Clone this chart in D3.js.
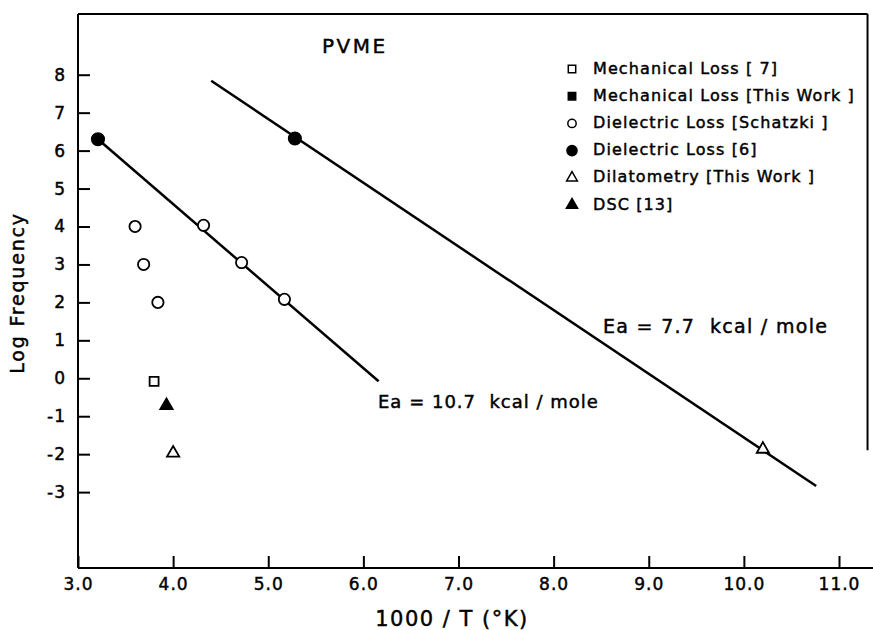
<!DOCTYPE html>
<html>
<head>
<meta charset="utf-8">
<script src="https://cdn.jsdelivr.net/npm/d3@7"></script>
<style>
  html, body { margin: 0; padding: 0; background: #fff; }
  svg { display: block; font-family: "DejaVu Sans", sans-serif; }
  text { fill: #000; stroke: #000; stroke-width: 0.45px; }
</style>
</head>
<body>
<svg id="chart" width="873" height="630"></svg>
<script>
// Legend entries, in drawing order
const seriesNames = [
  "Mechanical Loss [ 7]",
  "Mechanical Loss [This Work ]",
  "Dielectric Loss [Schatzki ]",
  "Dielectric Loss [6]",
  "Dilatometry [This Work ]",
  "DSC [13]"
];

// Observations: [1000/T, log frequency]
const mechLoss7 = [[3.80, -0.08]];
const mechLossThisWork = [];
const dielLossSchatzki = [[3.60, 4.0], [3.69, 3.0], [3.84, 2.0], [4.32, 4.03], [4.72, 3.05], [5.17, 2.08]];
const dielLoss6 = [[3.21, 6.3], [5.28, 6.32]];
const dilatometryThisWork = [[4.00, -1.97], [10.20, -1.87]];
const dsc13 = [[3.93, -0.72]];

// Arrhenius fit lines (end points)
const fit107 = [[3.21, 6.3], [6.16, -0.08]];
const fit77 = [[4.40, 7.84], [10.76, -2.84]];

const fitLabels = ["Ea = 10.7  kcal / mole", "Ea = 7.7  kcal / mole"];

// Axis ticks
const xTicks = [3, 4, 5, 6, 7, 8, 9, 10, 11];
const yTicks = [-3, -2, -1, 0, 1, 2, 3, 4, 5, 6, 7, 8];

const svg = d3.select("#chart");

const x = d3.scaleLinear().domain([3, 11]).range([78, 839]);
const y = d3.scaleLinear().domain([-5, 9.6]).range([568, 14]);

const ink = "#000";

// Frame: left axis, top border, partial right border, bottom axis
const frame = svg.append("g").attr("stroke", ink).attr("stroke-width", 2).attr("fill", "none");
frame.append("line").attr("x1", x(3)).attr("x2", x(3)).attr("y1", y(9.6)).attr("y2", y(-5));
frame.append("line").attr("x1", x(3)).attr("x2", x(11.3)).attr("y1", y(9.6)).attr("y2", y(9.6));
frame.append("line").attr("x1", x(11.3)).attr("x2", x(11.3)).attr("y1", y(9.6)).attr("y2", y(-1.9));
frame.append("line").attr("x1", x(3)).attr("x2", x(11.37)).attr("y1", y(-5)).attr("y2", y(-5));

// Bottom axis with inward ticks
const xAxis = d3.axisBottom(x)
  .tickValues(xTicks)
  .tickSize(-12)
  .tickPadding(10)
  .tickFormat(d3.format(".1f"));
const gx = svg.append("g").attr("transform", `translate(0,${y(-5)})`).call(xAxis);
gx.select(".domain").remove();
gx.selectAll(".tick line").attr("stroke", ink).attr("stroke-width", 2);
gx.selectAll(".tick text")
  .attr("font-size", 17)
  .attr("letter-spacing", 1)
  .attr("font-family", "DejaVu Sans, sans-serif");

// Left axis with inward ticks
const yAxis = d3.axisLeft(y)
  .tickValues(yTicks)
  .tickSize(-12)
  .tickPadding(12)
  .tickFormat(d => String(d));
const gy = svg.append("g").attr("transform", `translate(${x(3)},0)`).call(yAxis);
gy.select(".domain").remove();
gy.selectAll(".tick line").attr("stroke", ink).attr("stroke-width", 2);
gy.selectAll(".tick text")
  .attr("font-size", 17)
  .attr("letter-spacing", 1)
  .attr("font-family", "DejaVu Sans, sans-serif");

// Axis titles
svg.append("text")
  .attr("x", 452).attr("y", 620)
  .attr("text-anchor", "middle").attr("dominant-baseline", "middle")
  .attr("font-size", 21).attr("letter-spacing", 1.5)
  .text("1000 / T (°K)");

svg.append("text")
  .attr("transform", "translate(18,293) rotate(-90)")
  .attr("text-anchor", "middle").attr("dominant-baseline", "middle")
  .attr("font-size", 19).attr("letter-spacing", 1.8)
  .text("Log Frequency");

// Panel title
svg.append("text")
  .attr("x", 322).attr("y", 47)
  .attr("dominant-baseline", "middle")
  .attr("font-size", 20).attr("letter-spacing", 2.5)
  .text("PVME");

// Fit lines
const line = d3.line().x(d => x(d[0])).y(d => y(d[1]));
svg.append("g").attr("fill", "none").attr("stroke", ink).attr("stroke-width", 2.5)
  .selectAll("path").data([fit107, fit77]).join("path").attr("d", line);

// Fit labels
svg.append("text")
  .attr("x", 378).attr("y", 403)
  .attr("dominant-baseline", "middle")
  .attr("font-size", 18).attr("letter-spacing", 1)
  .attr("xml:space", "preserve")
  .text(fitLabels[0]);
svg.append("text")
  .attr("x", 603).attr("y", 327)
  .attr("dominant-baseline", "middle")
  .attr("font-size", 19).attr("letter-spacing", 1.3)
  .attr("xml:space", "preserve")
  .text(fitLabels[1]);

// Marker styles per series
const markerStyles = [
  { type: d3.symbolSquare,   size: 80,  fill: "#fff" },
  { type: d3.symbolSquare,   size: 70,  fill: ink },
  { type: d3.symbolCircle,   size: 100, fill: "#fff" },
  { type: d3.symbolCircle,   size: 120, fill: ink },
  { type: d3.symbolTriangle, size: 65,  fill: "#fff" },
  { type: d3.symbolTriangle, size: 65,  fill: ink }
];
const seriesData = [mechLoss7, mechLossThisWork, dielLossSchatzki, dielLoss6, dilatometryThisWork, dsc13];

seriesData.forEach((pts, i) => {
  const st = markerStyles[i];
  svg.append("g")
    .selectAll("path").data(pts).join("path")
    .attr("transform", d => `translate(${x(d[0])},${y(d[1])})`)
    .attr("d", d3.symbol().type(st.type).size(st.size))
    .attr("fill", st.fill)
    .attr("stroke", ink)
    .attr("stroke-width", 1.8);
});

// Legend
const legendSizes = [55, 55, 55, 80, 50, 55];
const legend = svg.append("g").attr("transform", "translate(572,69)");
seriesNames.forEach((name, i) => {
  const row = legend.append("g").attr("transform", `translate(0,${i * 27.2})`);
  const st = markerStyles[i];
  row.append("path")
    .attr("d", d3.symbol().type(st.type).size(legendSizes[i]))
    .attr("fill", st.fill).attr("stroke", ink).attr("stroke-width", 1.5);
  row.append("text")
    .attr("x", 21).attr("y", 0)
    .attr("dominant-baseline", "middle")
    .attr("font-size", 16).attr("letter-spacing", 1.1)
    .attr("xml:space", "preserve")
    .text(name);
});
</script>
</body>
</html>
